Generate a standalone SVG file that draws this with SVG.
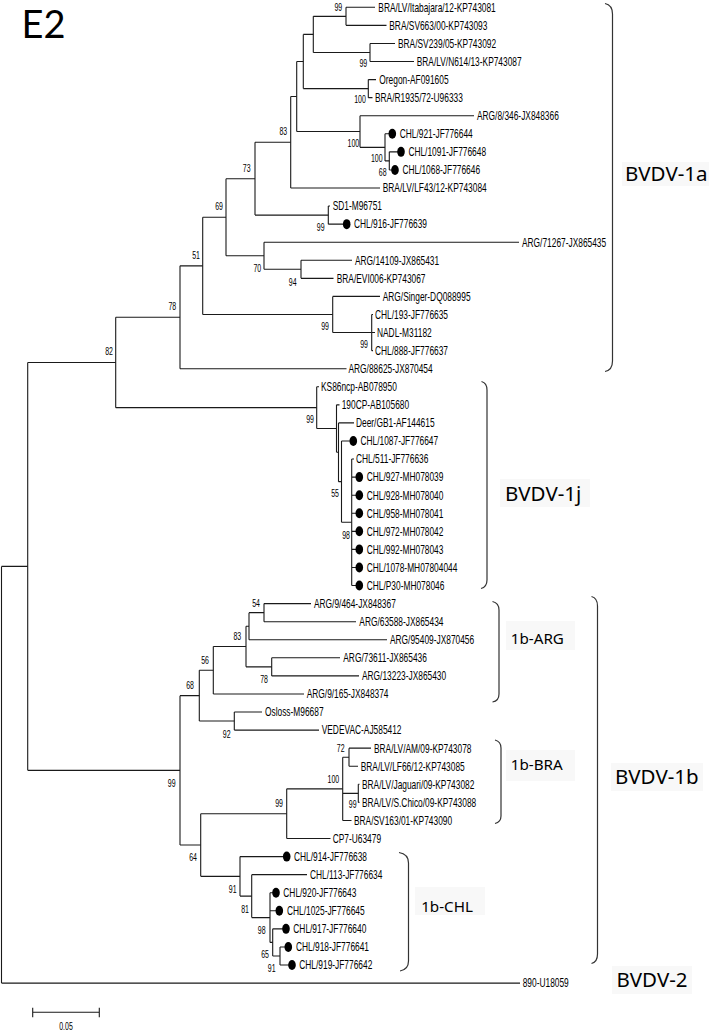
<svg xmlns="http://www.w3.org/2000/svg" width="709" height="1031" viewBox="0 0 709 1031">
<style>
.br{fill:none;stroke:#1a1a1a;stroke-width:1.1}
.bk{fill:none;stroke:#333;stroke-width:1.2}
.lf{font-family:"Liberation Sans",Arial,sans-serif;font-size:12.5px;fill:#000;transform-box:fill-box;transform-origin:0 0;transform:scaleX(.67)}
.bs{font-family:"Liberation Sans",Arial,sans-serif;font-size:10px;fill:#000;text-anchor:middle;transform-box:fill-box;transform-origin:50% 0;transform:scaleX(.7)}
.cl{font-family:"Noto Sans","Open Sans","DejaVu Sans",sans-serif;fill:#000}
.big{font-size:20.5px}
.sm{font-size:15.2px}
.bg{fill:#f8f8f8}
.dot{fill:#000}
</style>
<rect width="709" height="1031" fill="#fff"/>
<text id="title" x="21.5" y="38.3" font-family="Lato,'Noto Sans',sans-serif" font-size="38" fill="#000">E2</text>

<g id="connectors">
<path class="br" d="M346,7.3V25.37M346,7.3H375M346,25.37H386.5"/>
<path class="br" d="M370,43.44V61.51M370,43.44H395M370,61.51H414"/>
<path class="br" d="M313.3,16.34V52.48M313.3,16.34H346M313.3,52.48H370"/>
<path class="br" d="M368.3,79.58V97.65M368.3,79.58H376M368.3,97.65H372.5"/>
<path class="br" d="M303.3,34.41V88.62M303.3,34.41H313.3M303.3,88.62H368.3"/>
<path class="br" d="M389.3,151.86V169.93M389.3,151.86H398M389.3,169.93H392"/>
<path class="br" d="M385,133.79V160.9M385,133.79H389M385,160.9H389.3"/>
<path class="br" d="M360,115.72V147.34M360,115.72H474M360,147.34H385"/>
<path class="br" d="M296.7,61.51V131.53M296.7,61.51H303.3M296.7,131.53H360"/>
<path class="br" d="M290.7,96.52V188M290.7,96.52H296.7M290.7,188H380"/>
<path class="br" d="M328.3,206.07V224.14M328.3,206.07H330M328.3,224.14H343.7"/>
<path class="br" d="M255,142.26V215.1M255,142.26H290.7M255,215.1H328.3"/>
<path class="br" d="M301,260.28V278.35M301,260.28H352M301,278.35H333.5"/>
<path class="br" d="M264,242.21V269.3M264,242.21H519M264,269.3H301"/>
<path class="br" d="M226,178.68V255.76M226,178.68H255M226,255.76H264"/>
<path class="br" d="M371.7,314.49V350.63M371.7,314.49H373M371.7,332.56H375M371.7,350.63H373"/>
<path class="br" d="M332.7,296.42V332.56M332.7,296.42H380M332.7,332.56H371.7"/>
<path class="br" d="M202.7,217.22V314.49M202.7,217.22H226M202.7,314.49H332.7"/>
<path class="br" d="M180,265.86V368.7M180,265.86H202.7M180,368.7H346.5"/>
<path class="br" d="M351.7,459.05V585.54M351.7,459.05H354M351.7,477.12H356.3M351.7,495.19H356.3M351.7,513.26H356.3M351.7,531.33H356.3M351.7,549.4H356.3M351.7,567.47H356.3M351.7,585.54H356.3"/>
<path class="br" d="M341.5,440.98V522.3M341.5,440.98H350.3M341.5,522.3H351.7"/>
<path class="br" d="M338.5,422.91V481.64M338.5,422.91H354M338.5,481.64H341.5"/>
<path class="br" d="M336.5,404.84V452.28M336.5,404.84H339.5M336.5,452.28H338.5"/>
<path class="br" d="M316.7,386.77V428.56M316.7,386.77H319M316.7,428.56H336.5"/>
<path class="br" d="M115.7,317.28V407.67M115.7,317.28H180M115.7,407.67H316.7"/>
<path class="br" d="M264,603.61V621.68M264,603.61H311M264,621.68H356"/>
<path class="br" d="M249,612.65V639.75M249,612.65H264M249,639.75H387"/>
<path class="br" d="M271.7,657.82V675.89M271.7,657.82H340M271.7,675.89H359"/>
<path class="br" d="M246,626.2V666.86M246,626.2H249M246,666.86H271.7"/>
<path class="br" d="M213.3,646.53V693.96M213.3,646.53H246M213.3,693.96H304"/>
<path class="br" d="M234.3,712.03V730.1M234.3,712.03H262M234.3,730.1H319"/>
<path class="br" d="M199.3,670.25V721.07M199.3,670.25H213.3M199.3,721.07H234.3"/>
<path class="br" d="M349,748.17V766.24M349,748.17H371M349,766.24H358"/>
<path class="br" d="M358.3,784.31V802.38M358.3,784.31H359.5M358.3,802.38H359.5"/>
<path class="br" d="M342.7,757.2V820.45M342.7,757.2H349M342.7,793.35H358.3M342.7,820.45H351.5"/>
<path class="br" d="M286.7,788.83V838.52M286.7,788.83H342.7M286.7,838.52H330.5"/>
<path class="br" d="M280,946.94V965.01M280,946.94H285.3M280,965.01H289"/>
<path class="br" d="M272.7,928.87V955.98M272.7,928.87H283M272.7,955.98H280"/>
<path class="br" d="M270,892.73V942.42M270,892.73H273M270,910.8H276.3M270,942.42H272.7"/>
<path class="br" d="M251.7,874.66V917.58M251.7,874.66H307M251.7,917.58H270"/>
<path class="br" d="M240,856.59V896.12M240,856.59H283.7M240,896.12H251.7"/>
<path class="br" d="M200.7,813.68V876.36M200.7,813.68H286.7M200.7,876.36H240"/>
<path class="br" d="M180,695.66V845.02M180,695.66H199.3M180,845.02H200.7"/>
<path class="br" d="M27.7,362.48V770.34M27.7,362.48H115.7M27.7,770.34H180"/>
<path class="br" d="M1.5,566.41V983.08M1.5,566.41H27.7M1.5,983.08H520"/>
</g>

<g id="bootstrap">
<text class="bs" x="338.3" y="10.8">99</text>
<text class="bs" x="363.3" y="67.5">99</text>
<text class="bs" x="360" y="103.5">100</text>
<text class="bs" x="353.3" y="146.8">100</text>
<text class="bs" x="376.7" y="161.8">100</text>
<text class="bs" x="382.7" y="175.8">68</text>
<text class="bs" x="283.3" y="135.2">83</text>
<text class="bs" x="246.7" y="171.8">73</text>
<text class="bs" x="219" y="210.2">69</text>
<text class="bs" x="320.7" y="230.8">99</text>
<text class="bs" x="257.3" y="271.8">70</text>
<text class="bs" x="292.7" y="286.2">94</text>
<text class="bs" x="196" y="258.9">51</text>
<text class="bs" x="172.3" y="310.3">78</text>
<text class="bs" x="109" y="355.5">82</text>
<text class="bs" x="325" y="330.2">99</text>
<text class="bs" x="364" y="348.5">99</text>
<text class="bs" x="310" y="423.5">99</text>
<text class="bs" x="335" y="496.8">55</text>
<text class="bs" x="346" y="539.5">98</text>
<text class="bs" x="256" y="607.5">54</text>
<text class="bs" x="237.3" y="640.2">83</text>
<text class="bs" x="264" y="683.5">78</text>
<text class="bs" x="205" y="664.5">56</text>
<text class="bs" x="190" y="689.5">68</text>
<text class="bs" x="226.7" y="738.5">92</text>
<text class="bs" x="171.7" y="786.8">99</text>
<text class="bs" x="340.7" y="751.8">72</text>
<text class="bs" x="333.3" y="782.8">100</text>
<text class="bs" x="352.7" y="808.5">99</text>
<text class="bs" x="279" y="807.5">99</text>
<text class="bs" x="193" y="861.2">64</text>
<text class="bs" x="232.7" y="892.8">91</text>
<text class="bs" x="245" y="912.8">81</text>
<text class="bs" x="261.7" y="934.2">98</text>
<text class="bs" x="265" y="958.5">65</text>
<text class="bs" x="271.7" y="971.8">91</text>
</g>

<g id="leaf-KP743081"><text class="lf" x="378.3" y="11.7">BRA/LV/Itabajara/12-KP743081</text></g>
<g id="leaf-KP743093"><text class="lf" x="389.3" y="29.8">BRA/SV663/00-KP743093</text></g>
<g id="leaf-KP743092"><text class="lf" x="398" y="47.8">BRA/SV239/05-KP743092</text></g>
<g id="leaf-KP743087"><text class="lf" x="416.7" y="65.9">BRA/LV/N614/13-KP743087</text></g>
<g id="leaf-AF091605"><text class="lf" x="379.3" y="84">Oregon-AF091605</text></g>
<g id="leaf-U96333"><text class="lf" x="375" y="102.1">BRA/R1935/72-U96333</text></g>
<g id="leaf-JX848366"><text class="lf" x="477" y="120.1">ARG/8/346-JX848366</text></g>
<g id="leaf-JF776644"><ellipse class="dot" cx="392.3" cy="133.79" rx="3.8" ry="5"/><text class="lf" x="399.7" y="138.2">CHL/921-JF776644</text></g>
<g id="leaf-JF776648"><ellipse class="dot" cx="401" cy="151.86" rx="3.8" ry="5"/><text class="lf" x="408.4" y="156.3">CHL/1091-JF776648</text></g>
<g id="leaf-JF776646"><ellipse class="dot" cx="395" cy="169.93" rx="3.8" ry="5"/><text class="lf" x="402.4" y="174.3">CHL/1068-JF776646</text></g>
<g id="leaf-KP743084"><text class="lf" x="382.7" y="192.4">BRA/LV/LF43/12-KP743084</text></g>
<g id="leaf-M96751"><text class="lf" x="332.7" y="210.5">SD1-M96751</text></g>
<g id="leaf-JF776639"><ellipse class="dot" cx="346.7" cy="224.14" rx="3.8" ry="5"/><text class="lf" x="354" y="228.5">CHL/916-JF776639</text></g>
<g id="leaf-JX865435"><text class="lf" x="522" y="246.6">ARG/71267-JX865435</text></g>
<g id="leaf-JX865431"><text class="lf" x="355" y="264.7">ARG/14109-JX865431</text></g>
<g id="leaf-KP743067"><text class="lf" x="336.7" y="282.8">BRA/EVI006-KP743067</text></g>
<g id="leaf-DQ088995"><text class="lf" x="382.7" y="300.8">ARG/Singer-DQ088995</text></g>
<g id="leaf-JF776635"><text class="lf" x="375" y="318.9">CHL/193-JF776635</text></g>
<g id="leaf-M31182"><text class="lf" x="377" y="337">NADL-M31182</text></g>
<g id="leaf-JF776637"><text class="lf" x="375" y="355">CHL/888-JF776637</text></g>
<g id="leaf-JX870454"><text class="lf" x="348.5" y="373.1">ARG/88625-JX870454</text></g>
<g id="leaf-AB078950"><text class="lf" x="321" y="391.2">KS86ncp-AB078950</text></g>
<g id="leaf-AB105680"><text class="lf" x="341.7" y="409.2">190CP-AB105680</text></g>
<g id="leaf-AF144615"><text class="lf" x="356" y="427.3">Deer/GB1-AF144615</text></g>
<g id="leaf-JF776647"><ellipse class="dot" cx="353.3" cy="440.98" rx="3.8" ry="5"/><text class="lf" x="360.5" y="445.4">CHL/1087-JF776647</text></g>
<g id="leaf-JF776636"><text class="lf" x="356" y="463.5">CHL/511-JF776636</text></g>
<g id="leaf-MH078039"><ellipse class="dot" cx="359.3" cy="477.12" rx="3.8" ry="5"/><text class="lf" x="366.7" y="481.5">CHL/927-MH078039</text></g>
<g id="leaf-MH078040"><ellipse class="dot" cx="359.3" cy="495.19" rx="3.8" ry="5"/><text class="lf" x="366.7" y="499.6">CHL/928-MH078040</text></g>
<g id="leaf-MH078041"><ellipse class="dot" cx="359.3" cy="513.26" rx="3.8" ry="5"/><text class="lf" x="366.7" y="517.7">CHL/958-MH078041</text></g>
<g id="leaf-MH078042"><ellipse class="dot" cx="359.3" cy="531.33" rx="3.8" ry="5"/><text class="lf" x="366.7" y="535.7">CHL/972-MH078042</text></g>
<g id="leaf-MH078043"><ellipse class="dot" cx="359.3" cy="549.4" rx="3.8" ry="5"/><text class="lf" x="366.7" y="553.8">CHL/992-MH078043</text></g>
<g id="leaf-MH07804044"><ellipse class="dot" cx="359.3" cy="567.47" rx="3.8" ry="5"/><text class="lf" x="366.7" y="571.9">CHL/1078-MH07804044</text></g>
<g id="leaf-MH078046"><ellipse class="dot" cx="359.3" cy="585.54" rx="3.8" ry="5"/><text class="lf" x="366.7" y="589.9">CHL/P30-MH078046</text></g>
<g id="leaf-JX848367"><text class="lf" x="314" y="608">ARG/9/464-JX848367</text></g>
<g id="leaf-JX865434"><text class="lf" x="359.3" y="626.1">ARG/63588-JX865434</text></g>
<g id="leaf-JX870456"><text class="lf" x="390" y="644.2">ARG/95409-JX870456</text></g>
<g id="leaf-JX865436"><text class="lf" x="343.3" y="662.2">ARG/73611-JX865436</text></g>
<g id="leaf-JX865430"><text class="lf" x="362" y="680.3">ARG/13223-JX865430</text></g>
<g id="leaf-JX848374"><text class="lf" x="306.7" y="698.4">ARG/9/165-JX848374</text></g>
<g id="leaf-M96687"><text class="lf" x="265" y="716.4">Osloss-M96687</text></g>
<g id="leaf-AJ585412"><text class="lf" x="321.7" y="734.5">VEDEVAC-AJ585412</text></g>
<g id="leaf-KP743078"><text class="lf" x="374" y="752.6">BRA/LV/AM/09-KP743078</text></g>
<g id="leaf-KP743085"><text class="lf" x="360.7" y="770.6">BRA/LV/LF66/12-KP743085</text></g>
<g id="leaf-KP743082"><text class="lf" x="362" y="788.7">BRA/LV/Jaguari/09-KP743082</text></g>
<g id="leaf-KP743088"><text class="lf" x="362" y="806.8">BRA/LV/S.Chico/09-KP743088</text></g>
<g id="leaf-KP743090"><text class="lf" x="354" y="824.9">BRA/SV163/01-KP743090</text></g>
<g id="leaf-U63479"><text class="lf" x="332.7" y="842.9">CP7-U63479</text></g>
<g id="leaf-JF776638"><ellipse class="dot" cx="286.7" cy="856.59" rx="3.8" ry="5"/><text class="lf" x="294" y="861">CHL/914-JF776638</text></g>
<g id="leaf-JF776634"><text class="lf" x="310" y="879.1">CHL/113-JF776634</text></g>
<g id="leaf-JF776643"><ellipse class="dot" cx="276" cy="892.73" rx="3.8" ry="5"/><text class="lf" x="283.3" y="897.1">CHL/920-JF776643</text></g>
<g id="leaf-JF776645"><ellipse class="dot" cx="279.3" cy="910.8" rx="3.8" ry="5"/><text class="lf" x="287" y="915.2">CHL/1025-JF776645</text></g>
<g id="leaf-JF776640"><ellipse class="dot" cx="286" cy="928.87" rx="3.8" ry="5"/><text class="lf" x="293.3" y="933.3">CHL/917-JF776640</text></g>
<g id="leaf-JF776641"><ellipse class="dot" cx="288.3" cy="946.94" rx="3.8" ry="5"/><text class="lf" x="296" y="951.3">CHL/918-JF776641</text></g>
<g id="leaf-JF776642"><ellipse class="dot" cx="292" cy="965.01" rx="3.8" ry="5"/><text class="lf" x="299.3" y="969.4">CHL/919-JF776642</text></g>
<g id="leaf-U18059"><text class="lf" x="522.7" y="987.5">890-U18059</text></g>

<g id="clade-BVDV-1a">
<path class="bk" d="M605,3.5Q612.5,5 612.5,14V361Q612.5,370 605,371.5"/>
<rect class="bg" x="622" y="162" width="87" height="24"/>
<text class="cl big" x="625" y="180.7">BVDV-1a</text>
</g>
<g id="clade-BVDV-1j">
<path class="bk" d="M481.5,381.5Q487,383 487,390V580Q487,587 481,588.5"/>
<rect class="bg" x="500" y="479" width="90" height="28"/>
<text class="cl big" x="505" y="500.7">BVDV-1j</text>
</g>
<g id="clade-1b-ARG">
<path class="bk" d="M492.5,601.5Q499,603 499,610V694Q499,701 492.5,702"/>
<rect class="bg" x="506" y="621" width="69" height="29"/>
<text class="cl sm" x="510.8" y="643.7">1b-ARG</text>
</g>
<g id="clade-1b-BRA">
<path class="bk" d="M495,740Q501,741.5 501,748V816Q501,822 495,823.5"/>
<rect class="bg" x="506" y="750" width="69" height="31"/>
<text class="cl sm" x="510.8" y="770.4">1b-BRA</text>
</g>
<g id="clade-1b-CHL">
<path class="bk" d="M399,852.5Q408.5,854 408.5,863V961Q408.5,969.5 400,971"/>
<rect class="bg" x="415" y="887" width="70" height="28"/>
<text class="cl sm" x="421.2" y="912">1b-CHL</text>
</g>
<g id="clade-BVDV-1b">
<path class="bk" d="M591.5,596.5Q597.5,598 597.5,606V954Q597.5,962 591.5,963.5"/>
<rect class="bg" x="611" y="763" width="92" height="28"/>
<text class="cl big" x="615" y="784">BVDV-1b</text>
</g>
<g id="clade-BVDV-2">
<rect class="bg" x="612" y="966" width="80" height="28"/>
<text class="cl big" x="616.5" y="987">BVDV-2</text>
</g>

<g id="scale-bar">
<path class="br" d="M32.7,1012.3H99.3M32.7,1007.7V1017.3M99.3,1007.7V1017.3"/>
<text class="bs" x="66" y="1030.2">0.05</text>
</g>
</svg>
